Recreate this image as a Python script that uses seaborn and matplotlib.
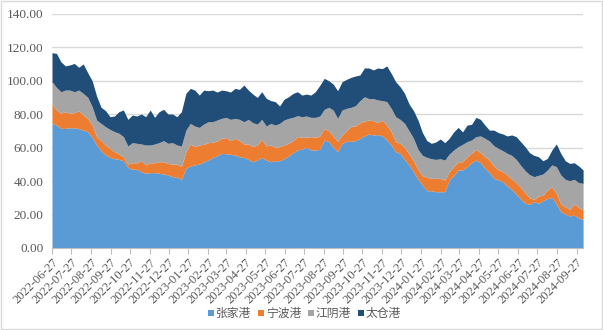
import numpy as np
import pandas as pd
import matplotlib
matplotlib.use("Agg")
import matplotlib.pyplot as plt
from matplotlib.patches import Rectangle, Patch
import seaborn as sns

# Weekly port inventories (stacked), one value per week starting 2022-06-27
start_date = "2022-06-27"
n_weeks = 120

zhangjiagang = [
    74.4, 73.4, 71.4, 71.4, 71.8, 71.8, 71.2, 70.4, 69.5, 66.1,
    61.5, 58.1, 55.5, 54.1, 53.3, 52.9, 52.1, 48.2, 47.0, 47.0,
    45.6, 44.6, 45.0, 45.0, 44.6, 44.2, 43.6, 42.6, 42.2, 41.0,
    47.6, 49.0, 49.6, 50.1, 51.5, 52.5, 54.1, 55.1, 56.5, 56.3,
    55.9, 55.5, 54.5, 54.1, 52.9, 51.5, 52.5, 54.1, 52.5, 51.5,
    52.1, 52.1, 53.3, 54.9, 56.9, 58.5, 59.1, 60.1, 58.5, 58.5,
    58.9, 64.5, 63.5, 60.1, 57.5, 62.5, 63.7, 63.7, 64.1, 65.5,
    66.9, 68.1, 67.5, 67.7, 66.9, 64.5, 61.5, 57.5, 56.5, 52.9,
    49.6, 45.6, 41.0, 37.6, 34.2, 34.2, 33.6, 33.6, 33.6, 40.6,
    43.2, 46.6, 46.6, 48.6, 50.9, 52.5, 50.9, 47.6, 45.0, 41.6,
    40.6, 39.6, 37.0, 35.0, 32.2, 29.3, 26.7, 26.1, 27.7, 26.7,
    28.3, 29.5, 30.2, 26.3, 21.7, 20.3, 19.1, 19.7, 17.9, 17.1,
]
ningbo = [
    11.6, 9.0, 9.0, 10.0, 8.6, 9.0, 10.8, 9.0, 7.9, 7.3,
    5.0, 6.0, 6.0, 5.4, 4.2, 3.2, 2.4, 1.9, 3.9, 3.9,
    6.5, 5.0, 5.9, 5.9, 6.9, 7.3, 6.9, 7.5, 7.9, 7.6,
    9.9, 13.1, 10.9, 11.4, 10.4, 10.4, 9.0, 8.8, 9.0, 9.6,
    8.2, 10.0, 9.6, 8.0, 9.2, 9.0, 9.0, 10.8, 8.4, 10.0,
    8.0, 8.4, 8.2, 7.6, 7.2, 8.0, 7.0, 6.0, 8.0, 7.6,
    8.0, 6.9, 6.5, 6.8, 6.0, 5.0, 6.3, 9.1, 8.7, 9.3,
    8.9, 8.3, 8.5, 7.1, 9.5, 8.9, 8.0, 6.0, 6.0, 7.2,
    6.5, 6.5, 5.9, 5.6, 8.0, 7.4, 8.0, 8.0, 7.0, 5.0,
    5.4, 4.9, 4.9, 5.9, 5.6, 6.4, 6.0, 6.9, 7.5, 7.4,
    6.0, 6.0, 6.6, 6.2, 6.8, 6.9, 6.3, 3.9, 1.4, 4.3,
    3.3, 5.1, 6.4, 6.3, 4.6, 4.4, 4.0, 6.6, 6.2, 5.6,
]
jiangyin = [
    13.3, 13.5, 12.9, 12.9, 13.9, 12.5, 12.3, 12.9, 12.6, 11.0,
    9.9, 10.3, 10.9, 11.3, 12.0, 12.4, 12.0, 10.8, 12.0, 11.6,
    10.0, 11.9, 10.6, 11.2, 11.4, 12.6, 12.0, 12.8, 11.4, 12.3,
    12.9, 12.3, 12.3, 10.5, 12.1, 12.5, 12.3, 12.5, 11.9, 12.1,
    12.7, 11.9, 12.7, 13.3, 14.7, 14.3, 12.5, 11.9, 11.9, 12.9,
    13.3, 13.9, 14.9, 14.9, 13.9, 12.5, 12.3, 12.7, 11.5, 11.9,
    11.9, 11.4, 14.0, 15.5, 13.9, 14.9, 13.4, 11.2, 12.2, 13.2,
    14.5, 12.8, 13.2, 13.6, 11.6, 14.0, 13.9, 14.9, 14.3, 14.3,
    13.9, 13.4, 12.0, 12.1, 11.9, 11.7, 11.3, 11.7, 11.9, 10.5,
    9.9, 9.0, 10.4, 9.0, 8.0, 7.6, 10.0, 11.0, 11.4, 12.1,
    12.9, 12.5, 12.9, 14.1, 13.9, 13.2, 13.2, 13.8, 13.5, 12.4,
    12.6, 12.0, 13.0, 16.0, 17.3, 16.3, 17.1, 14.7, 14.9, 15.9,
]
taicang = [
    17.3, 20.3, 17.9, 14.4, 15.0, 16.9, 13.6, 17.6, 14.7, 15.5,
    14.3, 9.6, 9.6, 7.6, 9.3, 12.9, 15.9, 15.9, 16.5, 16.3,
    17.9, 16.9, 20.9, 15.9, 18.5, 18.7, 17.5, 17.1, 16.9, 20.5,
    21.9, 20.9, 21.5, 19.3, 20.3, 18.5, 18.9, 16.7, 16.9, 15.9,
    16.3, 17.9, 17.9, 21.9, 17.5, 17.1, 15.9, 16.5, 16.6, 13.6,
    14.0, 10.4, 12.4, 12.9, 14.3, 14.3, 12.9, 13.1, 13.3, 15.3,
    18.3, 18.5, 15.9, 15.5, 16.5, 16.9, 17.3, 17.9, 17.7, 15.3,
    17.2, 18.3, 17.1, 19.1, 19.1, 21.3, 20.9, 20.9, 19.5, 17.9,
    16.0, 16.5, 17.5, 13.6, 10.0, 9.2, 10.4, 11.8, 10.4, 9.4,
    10.8, 11.5, 7.4, 9.9, 9.3, 11.5, 9.9, 7.9, 6.5, 9.3,
    9.4, 10.0, 10.4, 12.2, 13.6, 14.1, 14.3, 13.1, 12.7, 11.1,
    7.9, 6.9, 8.9, 13.5, 12.9, 11.1, 10.3, 9.9, 10.0, 8.0,
]

port_names = ["张家港", "宁波港", "江阴港", "太仓港"]
port_colors = ["#5B9BD5", "#ED7D31", "#A5A5A5", "#214D79"]

y_ticks = [0, 20, 40, 60, 80, 100, 120, 140]
first_tick_month = "2022-06"
n_tick_months = 28
tick_day = 27

dates = pd.date_range(start_date, periods=n_weeks, freq="7D")
df = pd.DataFrame({
    "date": dates,
    port_names[0]: zhangjiagang,
    port_names[1]: ningbo,
    port_names[2]: jiangyin,
    port_names[3]: taicang,
})

sns.set_theme(style="white")
plt.rcParams["font.family"] = ["Liberation Serif", "Noto Sans CJK SC", "DejaVu Sans"]
text_color = "#595959"

fig = plt.figure(figsize=(6.03, 3.30), dpi=100)
ax = fig.add_axes([0.0862, 0.2485, 0.8808, 0.7105])

ax.stackplot(df["date"], *[df[p] for p in port_names],
             colors=port_colors, labels=port_names, linewidth=0, zorder=2)

# horizontal gridlines
ax.set_ylim(0, 140)
ax.set_yticks(y_ticks)
ax.yaxis.set_major_formatter(matplotlib.ticker.FormatStrFormatter("%.2f"))
ax.grid(axis="y", color="#D9D9D9", linewidth=1.0, zorder=0)
ax.grid(axis="x", visible=False)
ax.set_axisbelow(True)

# monthly date ticks on the 27th
tick_dates = (pd.period_range(first_tick_month, periods=n_tick_months, freq="M")
              .to_timestamp() + pd.Timedelta(days=tick_day - 1))
ax.set_xlim(df["date"].iloc[0], df["date"].iloc[-1])
ax.set_xticks(tick_dates)
ax.set_xticklabels([d.strftime("%Y-%m-%d") for d in tick_dates],
                   rotation=45, ha="right", rotation_mode="anchor")

ax.tick_params(axis="x", which="major", length=4, width=0.8, color="#BFBFBF",
               labelsize=9, labelcolor=text_color, pad=2, direction="out", bottom=True)
ax.tick_params(axis="y", length=0, labelsize=9.5, labelcolor=text_color, pad=6)

for side in ["top", "right", "left"]:
    ax.spines[side].set_visible(False)
ax.spines["bottom"].set_color("#BFBFBF")
ax.spines["bottom"].set_linewidth(0.8)
ax.spines["bottom"].set_zorder(3)

handles = [Patch(facecolor=c, edgecolor="none") for c in port_colors]
leg = fig.legend(handles, port_names, loc="center", bbox_to_anchor=(0.505, 0.048),
                 ncol=4, frameon=False, fontsize=8.5, handlelength=0.5,
                 handleheight=0.5, handletextpad=0.15, columnspacing=0.6)
for t in leg.get_texts():
    t.set_color(text_color)

fig.patches.append(Rectangle((0.001, 0.002), 0.997, 0.995, transform=fig.transFigure,
                             fill=False, edgecolor="#D9D9D9", linewidth=1.0))

fig.savefig("out.png", dpi=100)
